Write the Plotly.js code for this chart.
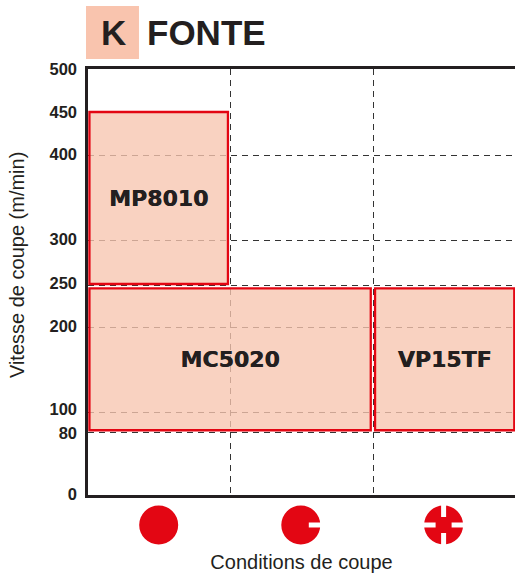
<!DOCTYPE html>
<html><head><meta charset="utf-8">
<script src="https://cdn.plot.ly/plotly-3.0.1.min.js"></script>
<style>html,body{margin:0;padding:0;background:#fff;overflow:hidden}</style></head>
<body><div id="chart" style="width:515px;height:575px"></div>
<script>
const grades = ["MP8010","MC5020","VP15TF"];
const gradeLow = [250,80,80];
const gradeHigh = [450,245,245];
const gradeFrom = [0.01,0.01,2.01];
const gradeTo = [0.98,1.98,2.985];
const yTickLabels = ["0","80","100","200","250","300","400","450","500"];
const yLabelPositions = [5.9,76.2,104.7,201.2,251.2,301.8,400.6,450,499.4];
const yGridPositions = [76.8,100.4,200,248,300.6,400];
const conditionCentres = [0.495,1.49,2.49];
const dividers = [1,2];
const INK = "#231f20", RED = "#e30613", PEACH = "#f9c4ae";
const F = "Liberation Sans, Arial, sans-serif";
const RANGE_Y = [4.7,500];

const trace = {
  type:"bar", orientation:"v",
  x: grades.map((g,i)=>gradeFrom[i]),
  width: grades.map((g,i)=>gradeTo[i]-gradeFrom[i]),
  offset: 0,
  base: gradeLow,
  y: grades.map((g,i)=>gradeHigh[i]-gradeLow[i]),
  marker:{color:"rgba(247,197,176,0.78)",line:{color:RED,width:2.3}},
  text: grades, textposition:"inside", insidetextanchor:"middle", textangle:0,
  constraintext:"none",
  insidetextfont:{family:"DejaVu Sans, sans-serif",size:22,color:INK,weight:"bold",shadow:"0.4px 0 0 #231f20"},
  hoverinfo:"skip", cliponaxis:false
};
const labelAxisTrace = {type:"scatter",mode:"markers",x:[null],y:[null],yaxis:"y2",hoverinfo:"skip",showlegend:false};

const shapes = [{type:"rect",xref:"paper",yref:"paper",x0:-0.0047,x1:0.1194,y0:1.0235,y1:1.148,
   fillcolor:PEACH,line:{width:0},layer:"above"}];
const iconY = -0.0704;
function pix(x,x0,x1,y0,y1,col,type){return {type:type||"rect",xref:"x",yref:"paper",xsizemode:"pixel",ysizemode:"pixel",
   xanchor:x,yanchor:iconY,x0,x1,y0,y1,fillcolor:col,line:{width:0},layer:"above"};}
conditionCentres.forEach(c=>shapes.push(pix(c,-19.5,19.5,-19.5,19.5,RED,"circle")));
shapes.push(pix(conditionCentres[1],8,21,-2.5,2.5,"#fff"));
shapes.push(pix(conditionCentres[2],8,21,-2.5,2.5,"#fff"));
shapes.push(pix(conditionCentres[2],-21,-8,-2.5,2.5,"#fff"));
shapes.push(pix(conditionCentres[2],-2.5,2.5,8,21,"#fff"));
shapes.push(pix(conditionCentres[2],-2.5,2.5,-21,-8,"#fff"));

const layout = {
  width:515,height:575,showlegend:false,paper_bgcolor:"#fff",plot_bgcolor:"#fff",
  margin:{l:88,r:0,t:69,b:80,pad:0},
  font:{family:F,color:INK},
  bargap:0,
  xaxis:{range:[0,2.99],tickvals:dividers,ticktext:["",""],ticks:"",showgrid:true,griddash:"6px,5px",gridcolor:"#333",gridwidth:1,
    zeroline:false,showline:true,linecolor:INK,linewidth:3,mirror:true,fixedrange:true,automargin:true,
    title:{text:"Conditions de coupe",font:{family:F,size:20,color:INK},standoff:56}},
  yaxis:{range:RANGE_Y,tickmode:"array",tickvals:yGridPositions,showticklabels:false,ticks:"",
    showgrid:true,griddash:"6px,5px",gridcolor:"#333",gridwidth:1,
    zeroline:false,showline:true,linecolor:INK,linewidth:3,fixedrange:true},
  yaxis2:{overlaying:"y",side:"left",range:RANGE_Y,tickmode:"array",tickvals:yLabelPositions,ticktext:yTickLabels,ticks:"",ticklabelstandoff:10,
    tickfont:{family:F,size:16.5,color:INK,weight:"bold"},showgrid:false,zeroline:false,showline:false,fixedrange:true},
  annotations:[
   {text:"K",xref:"paper",yref:"paper",x:0.0596,y:1.0856,xanchor:"center",yanchor:"middle",showarrow:false,font:{family:F,size:35,color:INK,weight:"bold"}},
   {text:"FONTE",xref:"paper",yref:"paper",x:0.137,y:1.0856,xanchor:"left",yanchor:"middle",showarrow:false,xshift:-1,font:{family:F,size:35,color:INK,weight:"bold"}},
   {text:"Vitesse de coupe (m/min)",xref:"paper",yref:"paper",x:-0.166,y:0.54,xanchor:"center",yanchor:"middle",textangle:-90,showarrow:false,font:{family:F,size:20,color:INK}}
  ],
  shapes
};
Plotly.newPlot("chart",[trace,labelAxisTrace],layout,{displayModeBar:false,staticPlot:true});
</script></body></html>
